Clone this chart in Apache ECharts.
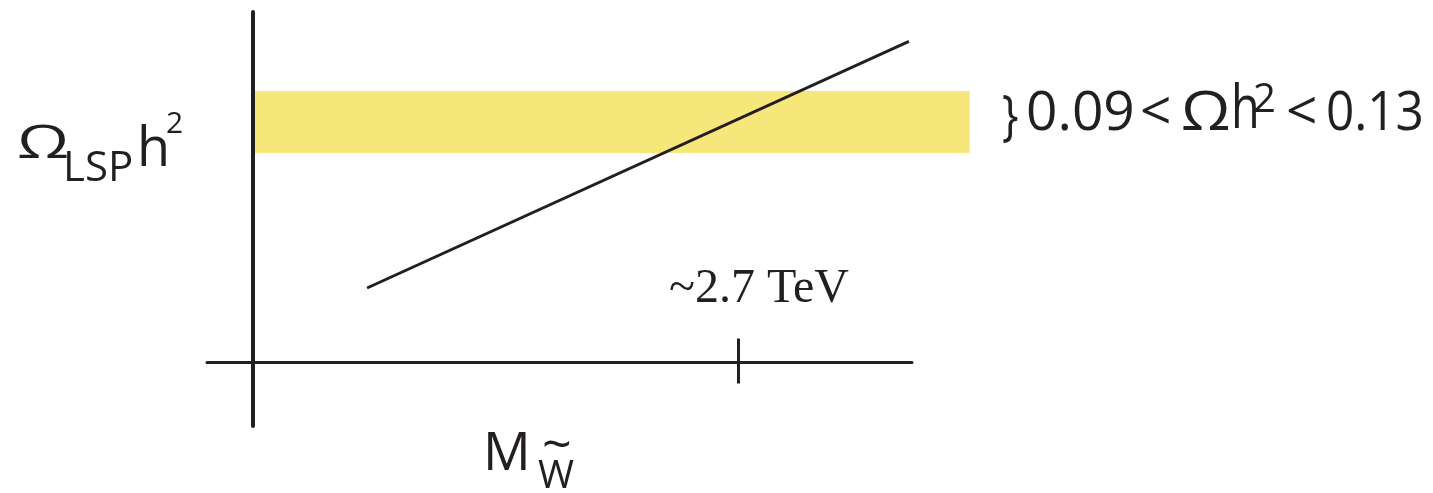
<!DOCTYPE html>
<html>
<head>
<meta charset="utf-8">
<script src="https://cdn.jsdelivr.net/npm/echarts@6/dist/echarts.min.js"></script>
<style>
  html, body { margin: 0; padding: 0; background: #ffffff; }
  #chart { width: 1433px; height: 493px; }
</style>
</head>
<body>
<div id="chart"></div>
<script>
// Schematic: relic density of the LSP versus wino mass
const massRange = [-0.256, 3.669];      // M (TeV), horizontal extent
const omegaRange = [-0.086, 0.181];     // Ωh², vertical extent
const axisLevel = -0.045;               // Ωh² level where the mass axis is drawn
const relicLine = [[0.635, 0.003], [3.652, 0.162]];   // Ω_LSP h² against M
const bandLimits = [0.09, 0.13];        // observed window 0.09 < Ωh² < 0.13
const bandMass = [0, 3.99];             // mass span of the shaded window
const markedMass = [2.7];               // TeV, marked on the mass axis

const INK = '#231f20';
const SANS = '"Open Sans", "Noto Sans", sans-serif';
const SERIF = '"Liberation Serif", "DejaVu Serif", serif';

const chart = echarts.init(document.getElementById('chart'), null, { renderer: 'canvas' });

function txt(text, x, y, size, sx, family) {
  return {
    type: 'text', x: x, y: y, z: 100,
    scaleX: sx || 1,
    style: {
      text: text, fill: INK,
      font: size + 'px ' + (family || SANS),
      textAlign: 'left', textVerticalAlign: 'middle'
    }
  };
}

const massAxisBase = {
  type: 'value', gridIndex: 0, position: 'bottom',
  min: massRange[0], max: massRange[1],
  splitLine: { show: false }, axisLabel: { show: false }
};

chart.setOption({
  backgroundColor: '#ffffff',
  animation: false,
  grid: { left: 207, right: 521, top: 12, bottom: 67, containLabel: false, outerBoundsMode: 'none' },
  xAxis: [
    Object.assign({}, massAxisBase, {
      z: 6,
      axisLine: { show: true, onZero: true, onZeroAxisIndex: 1, lineStyle: { color: INK, width: 3 } },
      axisTick: { show: true, customValues: markedMass, length: 21, inside: false, lineStyle: { color: INK, width: 3 } }
    }),
    Object.assign({}, massAxisBase, {
      // upper half of the crossing tick
      z: 6,
      axisLine: { show: true, onZero: true, onZeroAxisIndex: 1, lineStyle: { color: INK, width: 3, opacity: 0 } },
      axisTick: { show: true, customValues: markedMass, length: 24, inside: true, lineStyle: { color: INK, width: 3 } }
    })
  ],
  yAxis: [
    {
      type: 'value', gridIndex: 0, z: 6,
      min: omegaRange[0], max: omegaRange[1],
      axisLine: { show: true, onZero: true, onZeroAxisIndex: 0, lineStyle: { color: INK, width: 4 } },
      axisTick: { show: false }, axisLabel: { show: false }, splitLine: { show: false }
    },
    {
      // same scale, shifted so that its zero sits at the mass-axis level
      type: 'value', gridIndex: 0, show: false,
      min: omegaRange[0] - axisLevel, max: omegaRange[1] - axisLevel,
      splitLine: { show: false }
    }
  ],
  series: [
    {
      type: 'custom', name: 'window', xAxisIndex: 0, yAxisIndex: 0, z: 1, clip: false,
      data: [[bandMass[0], bandMass[1], bandLimits[0], bandLimits[1]]],
      encode: { x: [0, 1], y: [2, 3] },
      renderItem: (params, api) => {
        const a = api.coord([api.value(0), api.value(3)]);
        const b = api.coord([api.value(1), api.value(2)]);
        return {
          type: 'rect',
          shape: { x: a[0], y: a[1], width: b[0] - a[0], height: b[1] - a[1] },
          style: { fill: '#f6e77b' }
        };
      }
    },
    {
      type: 'line', name: 'relic', xAxisIndex: 0, yAxisIndex: 0, z: 3,
      data: relicLine, showSymbol: false, symbol: 'none',
      lineStyle: { color: INK, width: 3 }
    }
  ],
  graphic: [
    // vertical axis title: Ω_LSP h²
    txt('Ω', 17, 145, 46, 1.45),
    txt('LSP', 63, 169, 42),
    txt('h', 137, 151, 54),
    txt('2', 166, 124, 30),
    // window annotation
    txt('}', 1002, 118, 55, 0.8),
    txt('0.09', 1026, 114, 55),
    txt('<', 1140, 114, 55),
    txt('Ω', 1181, 114, 55, 1.15),
    txt('h', 1231, 111, 60, 0.78),
    txt('2', 1253, 101, 40),
    txt('<', 1286, 114, 55),
    txt('0.13', 1326, 114, 55, 0.9),
    // horizontal axis title: M with tilde-W subscript
    txt('M', 483, 455, 53),
    txt('W', 538, 477, 39),
    txt('~', 542, 447, 52)
  ]
});

// label for the marked mass, placed over its tick
const tickX = chart.convertToPixel({ xAxisIndex: 0 }, markedMass[0]);
chart.setOption({
  graphic: [{
    type: 'text', id: 'massMark', x: tickX - 69, y: 289, z: 100,
    style: {
      text: '~' + markedMass[0] + ' TeV', fill: INK,
      font: '48px ' + SERIF, textAlign: 'left', textVerticalAlign: 'middle'
    }
  }]
});
</script>
</body>
</html>
